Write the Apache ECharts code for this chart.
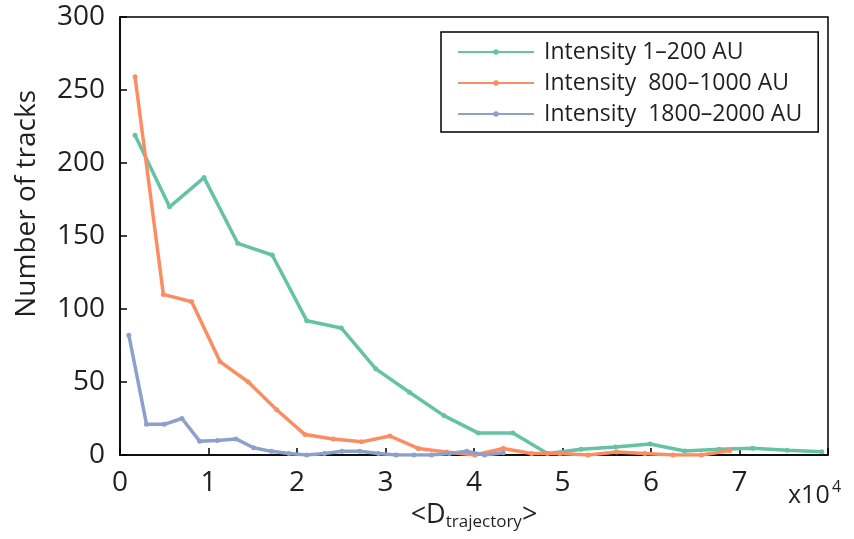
<!DOCTYPE html>
<html>
<head>
<meta charset="utf-8">
<script src="https://cdn.jsdelivr.net/npm/echarts@6/dist/echarts.min.js"></script>
<style>
  html, body { margin: 0; padding: 0; background: #fff; }
  #chart { width: 854px; height: 539px; }
</style>
</head>
<body>
<div id="chart"></div>
<script>
// x values in units of 1e4
const lowX = [0.17, 0.56, 0.95, 1.33, 1.72, 2.11, 2.50, 2.89, 3.27, 3.66, 4.05, 4.44, 4.83, 5.21, 5.60, 5.99, 6.38, 6.77, 7.15, 7.54, 7.93];
const lowY = [219, 170, 190, 145, 137, 92, 87, 59, 43, 27, 15, 15, 1, 4, 5.5, 7.5, 2.7, 4, 4.6, 3.2, 2.3];

const midX = [0.17, 0.49, 0.81, 1.13, 1.45, 1.77, 2.09, 2.41, 2.73, 3.05, 3.37, 3.69, 4.01, 4.33, 4.65, 4.97, 5.29, 5.61, 5.93, 6.25, 6.57, 6.89];
const midY = [259, 110, 105, 64, 50, 31, 14, 11, 9, 13, 4.5, 2, 0, 4.5, 1, 1, 0, 2, 1, 0, 0, 3];

const highX = [0.10, 0.30, 0.50, 0.70, 0.90, 1.10, 1.31, 1.51, 1.71, 1.91, 2.11, 2.31, 2.51, 2.71, 2.92, 3.12, 3.32, 3.52, 3.72, 3.92, 4.12, 4.33];
const highY = [82, 21, 21, 25, 9.5, 10, 11, 5, 2.5, 1, 0, 1, 2.5, 2.5, 1, 0, 0, 0, 1, 2.5, 0, 1.5];

const xTickLabels = ['0', '1', '2', '3', '4', '5', '6', '7', ''];
const seriesNames = ['Intensity 1\u2013200 AU', 'Intensity  800\u20131000 AU', 'Intensity  1800\u20132000 AU'];
const colors = ['#66c2a5', '#fc8d62', '#8da0cb'];

const FONT = 'Open Sans';
const TEXT = '#231f20';

const chart = echarts.init(document.getElementById('chart'));

const pairs = (xs, ys) => xs.map((x, i) => [x, ys[i]]);
const allData = [pairs(lowX, lowY), pairs(midX, midY), pairs(highX, highY)];

const series = allData.map((d, i) => ({
  name: seriesNames[i],
  type: 'line',
  data: d,
  symbol: 'circle',
  symbolSize: 5,
  showSymbol: true,
  lineStyle: { color: colors[i], width: 3.5 },
  itemStyle: { color: colors[i] },
  z: 2 + i,
}));

const option = {
  backgroundColor: '#fff',
  animation: false,
  grid: {
    left: 120,
    right: 26,
    top: 17,
    bottom: 84,
    show: true,
    borderColor: '#000',
    borderWidth: 1.5,
  },
  legend: {
    orient: 'vertical',
    left: 441,
    top: 32,
    padding: [8, 16, 6, 16],
    itemWidth: 76,
    itemHeight: 7,
    itemGap: 7,
    borderColor: '#000',
    borderWidth: 1.5,
    textStyle: { fontFamily: FONT, fontSize: 23, lineHeight: 24, color: TEXT, padding: [0, 0, 0, 5] },
    data: seriesNames,
  },
  xAxis: {
    type: 'value',
    min: 0,
    max: 8,
    interval: 1,
    name: '{a|<D}{sub|trajectory}{a|>}',
    nameLocation: 'middle',
    nameGap: 45,
    nameTextStyle: {
      rich: {
        a: { fontFamily: FONT, fontSize: 27, color: TEXT },
        sub: { fontFamily: FONT, fontSize: 17, color: TEXT, verticalAlign: 'bottom', padding: [14, 0, 0, 0] },
      },
    },
    axisLine: { lineStyle: { color: '#000', width: 1.5 } },
    axisTick: { inside: true, length: 7, lineStyle: { color: '#000', width: 1.5 } },
    axisLabel: {
      fontFamily: FONT, fontSize: 28, color: TEXT, margin: 14,
      formatter: (v) => xTickLabels[Math.round(v)] || '',
    },
    splitLine: { show: false },
  },
  yAxis: {
    type: 'value',
    min: 0,
    max: 300,
    interval: 50,
    axisLine: { show: true, lineStyle: { color: '#000', width: 1.5 } },
    axisTick: { show: true, inside: true, length: 7, lineStyle: { color: '#000', width: 1.5 } },
    axisLabel: { fontFamily: FONT, fontSize: 28, color: TEXT, margin: 15 },
    splitLine: { show: false },
  },
  graphic: [
    {
      type: 'text',
      left: 13,
      top: 90,
      rotation: Math.PI / 2,
      style: {
        text: 'Number of tracks',
        fontFamily: FONT,
        fontSize: 28,
        fill: TEXT,
      },
    },
    {
      type: 'text',
      x: 788,
      y: 496,
      style: {
        text: 'x10',
        fontFamily: FONT,
        fontSize: 25,
        fill: TEXT,
        verticalAlign: 'middle',
      },
    },
    {
      type: 'text',
      x: 832,
      y: 487,
      style: {
        text: '4',
        fontFamily: FONT,
        fontSize: 16,
        fill: TEXT,
        verticalAlign: 'middle',
      },
    },
  ],
  series,
};

chart.setOption(option);
</script>
</body>
</html>
